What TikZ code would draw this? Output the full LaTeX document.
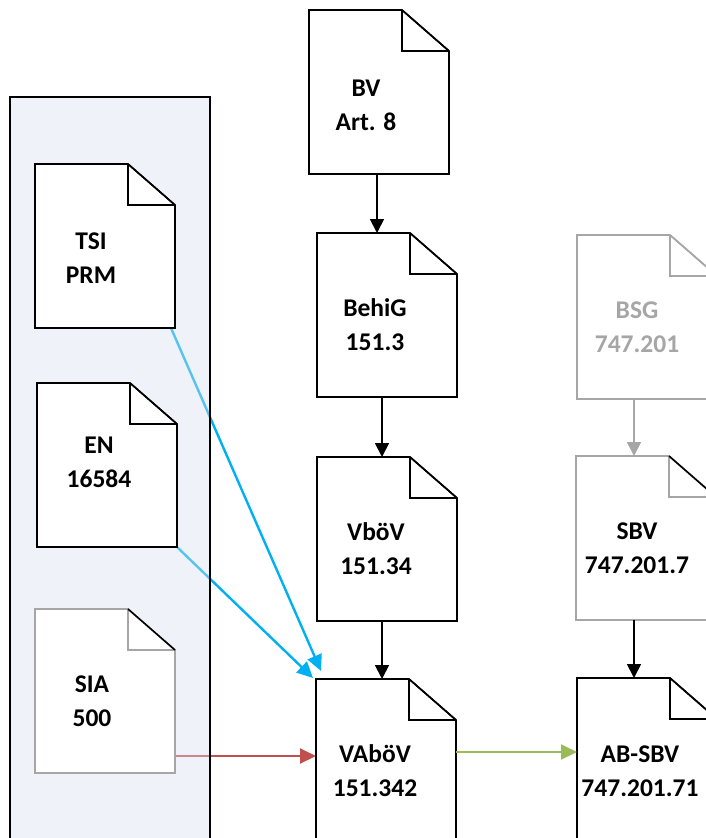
\documentclass[tikz,border=0pt]{standalone}
\usepackage{fontspec}
\setmainfont{Carlito}
\usetikzlibrary{arrows.meta,calc}
\definecolor{blueA}{HTML}{00B0F0}
\definecolor{redA}{HTML}{C0504D}
\definecolor{greenA}{HTML}{9BBB59}
\definecolor{grayA}{HTML}{A6A6A6}
\definecolor{panelA}{RGB}{215,225,240}
\newcommand{\drawdoc}[3]{%
 \filldraw[fill=white, draw=#2, line width=1.6pt, line join=miter] (#1.north west) -- ([xshift=-47pt]#1.north east) -- ([yshift=-41pt]#1.north east) -- (#1.south east) -- (#1.south west) -- cycle;
 \draw[draw=#2, line width=1.6pt] ([xshift=-47pt]#1.north east) |- ([yshift=-41pt]#1.north east);
 \draw[draw=#3, line width=1.6pt] ([xshift=-47pt]#1.north east) -- ([yshift=-41pt]#1.north east);
}
\begin{document}
\begin{tikzpicture}[x=1pt,y=-1pt,
  docnode/.style={minimum width=140pt, minimum height=164pt, inner sep=0pt, outer sep=0pt},
  doctext/.style={font=\fontsize{25.5}{34}\selectfont\bfseries, align=center, inner sep=0pt},
  arr/.style={line width=1.8pt, draw=black, -{Triangle[length=14pt,width=14pt]}},
  arrgray/.style={line width=1.6pt, draw=grayA, -{Triangle[length=14pt,width=14pt]}},
  arrblue/.style={line width=2.4pt, draw=blueA, -{Triangle[length=16pt,width=15pt]}},
  arrred/.style={line width=2pt, draw=redA, -{Triangle[length=16pt,width=15pt]}},
  arrgreen/.style={line width=2pt, draw=greenA, -{Triangle[length=16pt,width=15pt]}},
  panelbox/.style={line width=2pt, draw=black, fill=panelA, fill opacity=0.4}]
\useasboundingbox (0,0) rectangle (706,838);
\clip (0,0) rectangle (706,838);
% document nodes (invisible frames)
\node[docnode] (bv) at (379,92) {};
\node[docnode] (tsi) at (105,246) {};
\node[docnode] (behig) at (387,315) {};
\node[docnode] (en) at (107,465) {};
\node[docnode] (bsg) at (647,317) {};
\node[docnode] (vboev) at (387,539) {};
\node[docnode] (sbv) at (646,538) {};
\node[docnode] (sia) at (105,691) {};
\node[docnode] (vaboev) at (386,761) {};
\node[docnode] (absbv) at (647,760) {};
% connectors that run under the panel
\draw[arrblue] ([xshift=-4pt]tsi.south east) -- ($(vaboev.north west)+(5,-8)$);
\draw[arrblue] (en.south east) -- ($(vaboev.north west)+(-3,-1)$);
\coordinate (r1) at ([yshift=17pt]sia.south east);
\draw[arrred] (r1) -- (r1 -| vaboev.west);
% panel
\draw[panelbox] (10,97) rectangle (210,880);
% documents
\drawdoc{bv}{black}{black}
\drawdoc{tsi}{black}{black}
\drawdoc{behig}{black}{black}
\drawdoc{en}{black}{black}
\drawdoc{bsg}{grayA}{grayA}
\drawdoc{vboev}{black}{black}
\drawdoc{sbv}{grayA}{black}
\drawdoc{sia}{grayA}{black}
\drawdoc{vaboev}{black}{black}
\drawdoc{absbv}{black}{black}
% texts
\node[doctext] (bvt) at (366,105) {BV\\Art. 8};
\node[doctext] (tsit) at (91,258) {TSI\\PRM};
\node[doctext] (behigt) at (375,325) {BehiG\\151.3};
\node[doctext] (ent) at (99,462) {EN\\16584};
\node[doctext, text=grayA] (bsgt) at (637,327) {BSG\\747.201};
\node[doctext] (vboevt) at (376,549) {VböV\\151.34};
\node[doctext] (sbvt) at (637,548) {SBV\\747.201.7};
\node[doctext] (siat) at (92,701) {SIA\\500};
\node[doctext] (vaboevt) at (375,771) {VAböV\\151.342};
\node[doctext] (absbvt) at (640,771) {AB-SBV\\747.201.71};
% vertical arrows
\coordinate (xa) at (377,0);
\coordinate (xb) at (382,0);
\coordinate (xc) at (634,0);
\draw[arr] (bv.south -| xa) -- (behig.north -| xa);
\draw[arr] (behig.south -| xb) -- (vboev.north -| xb);
\draw[arr] (vboev.south -| xb) -- (vaboev.north -| xb);
\draw[arrgray] (bsg.south -| xc) -- (sbv.north -| xc);
\draw[arr] (sbv.south -| xc) -- (absbv.north -| xc);
% green arrow
\coordinate (g1) at ([yshift=-73pt]vaboev.north east);
\draw[arrgreen] (g1) -- (g1 -| absbv.west);
\end{tikzpicture}
\end{document}
